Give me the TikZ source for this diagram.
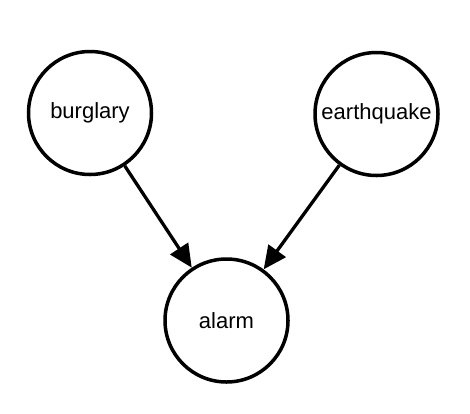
\documentclass[tikz,border=0pt]{standalone}
\usepackage{fontspec}
\setmainfont{Liberation Sans}
\usetikzlibrary{arrows.meta}
\begin{document}
\begin{tikzpicture}[x=1pt,y=-1pt,
  var/.style={circle,draw=black,line width=3.5pt,minimum size=123pt,inner sep=0pt,
    font=\fontsize{22}{26}\selectfont},
  edge/.style={line width=3.3pt,-{Triangle[length=23pt,width=21pt]}}]
\useasboundingbox (0,0) rectangle (470,413);
\node[var] (b) at (90,113) {burglary};
\node[var] (e) at (376.5,114) {earthquake};
\node[var] (a) at (226.5,320.5) {alarm};
\draw[edge] (b) -- (a);
\draw[edge] (e) -- (a);
\end{tikzpicture}
\end{document}
